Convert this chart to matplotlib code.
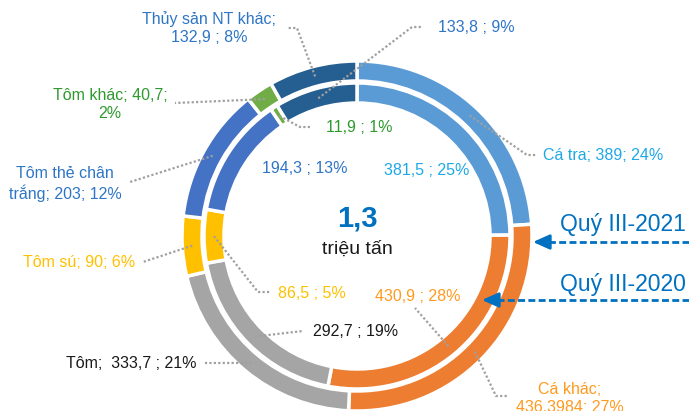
import numpy as np
import matplotlib
matplotlib.use("Agg")
import matplotlib.pyplot as plt

plt.rcParams['font.family'] = ['Liberation Sans', 'DejaVu Sans']

# Data (thousand tonnes)
categories = ["Cá tra", "Cá khác", "Tôm", "Tôm sú", "Tôm thẻ chân trắng", "Tôm khác", "Thủy sản NT khác"]
q3_2021 = [389, 436.3984, 333.7, 90, 203, 40.7, 132.9]
q3_2020 = [381.5, 430.9, 292.7, 86.5, 194.3, 11.9, 133.8]
labels_2021 = ["Cá tra; 389; 24%", "Cá khác;\n436,3984; 27%", "Tôm;  333,7 ; 21%", "Tôm sú; 90; 6%",
               "Tôm thẻ chân\ntrắng; 203; 12%", "Tôm khác; 40,7;\n2%", "Thủy sản NT khác;\n132,9 ; 8%"]
labels_2020 = ["381,5 ; 25%", "430,9 ; 28%", "292,7 ; 19%", "86,5 ; 5%",
               "194,3 ; 13%", "11,9 ; 1%", "133,8 ; 9%"]
total_text = "1,3"
unit_text = "triệu tấn"
ring_names = ["Quý III-2021", "Quý III-2020"]

colors = ["#5B9BD5", "#ED7D31", "#A5A5A5", "#FFC000", "#4472C4", "#70AD47", "#255E91"]
text_colors = ["#1FA8E6", "#FF9A1F", "#1A1A1A", "#FFC000", "#2E75C6", "#2E9A2E", "#2E75C6"]

W, H = 689, 411
cx, cy = 357, 236
r_out, r_in, ring_w = 175, 153, 20

fig = plt.figure(figsize=(W / 100, H / 100), dpi=100)
ax = fig.add_axes([0, 0, 1, 1])

wp = dict(width=ring_w, edgecolor="white", linewidth=2.5)
ax.pie(q3_2021, colors=colors, radius=r_out, center=(cx, cy), startangle=270,
       counterclock=True, wedgeprops=wp)
ax.pie(q3_2020, colors=colors, radius=r_in, center=(cx, cy), startangle=270,
       counterclock=True, wedgeprops=wp)

ax.set_xlim(0, W)
ax.set_ylim(H, 0)
ax.set_aspect("equal")
ax.axis("off")


def ring_pt(vals, i, r):
    vals = np.asarray(vals, dtype=float)
    f = (vals[:i].sum() + vals[i] / 2) / vals.sum()
    a = 2 * np.pi * f
    return cx + r * np.sin(a), cy - r * np.cos(a)


# label layout: (text x, text y, ha, leader bend points)
layout_2021 = [
    (543, 155, "left", [(527, 155), (537, 155)]),
    (570, 398, "center", [(496, 396), (507, 396)]),
    (196, 363, "right", [(205, 363)]),
    (135, 262, "right", [(143, 262)]),
    (65, 184, "center", [(130, 182)]),
    (110, 104, "center", [(175, 103)]),
    (209, 28, "center", [(297, 28), (287, 28)]),
]
layout_2020 = [
    (384, 170, "left", None),
    (375, 296, "left", [(415, 308)]),
    (313, 331, "left", [(303, 331)]),
    (278, 293, "left", [(258, 292), (270, 292)]),
    (262, 168, "left", None),
    (326, 127, "left", [(300, 127), (310, 127)]),
    (438, 28, "left", [(412, 27), (422, 27)]),
]

for vals, labels, layout, r_mid in [(q3_2021, labels_2021, layout_2021, r_out - ring_w / 2),
                                    (q3_2020, labels_2020, layout_2020, r_in - ring_w / 2)]:
    for i, (tx, ty, ha, bends) in enumerate(layout):
        ax.text(tx, ty, labels[i], ha=ha, va="center", fontsize=11.5, color=text_colors[i],
                linespacing=1.25, zorder=5)
        if bends:
            pts = [ring_pt(vals, i, r_mid)] + bends
            xs, ys = zip(*pts)
            ax.plot(xs, ys, color="#A0A0A0", lw=1.6, ls=(0, (1, 1)), zorder=4)

# centre text
ax.text(cx, 218, total_text, ha="center", va="center", fontsize=21, fontweight="bold", color="#0070C0")
ax.text(cx, 249, unit_text, ha="center", va="center", fontsize=14, color="#1A1A1A")

# ring labels with dashed arrows
for name, ty, ay, tip in [(ring_names[0], 224, 242, 533), (ring_names[1], 284, 300, 482)]:
    ax.text(686, ty, name, ha="right", va="center", fontsize=16.5, color="#0070C0")
    ax.plot([W, tip + 14], [ay, ay], color="#0070C0", lw=2, ls=(0, (2.5, 1.2)))
    ax.annotate("", xy=(tip, ay), xytext=(tip + 15, ay),
                arrowprops=dict(arrowstyle="-|>,head_length=1.0,head_width=0.45",
                                color="#0070C0", lw=2, shrinkA=0, shrinkB=0, mutation_scale=10))

fig.savefig("out.png", dpi=100)
